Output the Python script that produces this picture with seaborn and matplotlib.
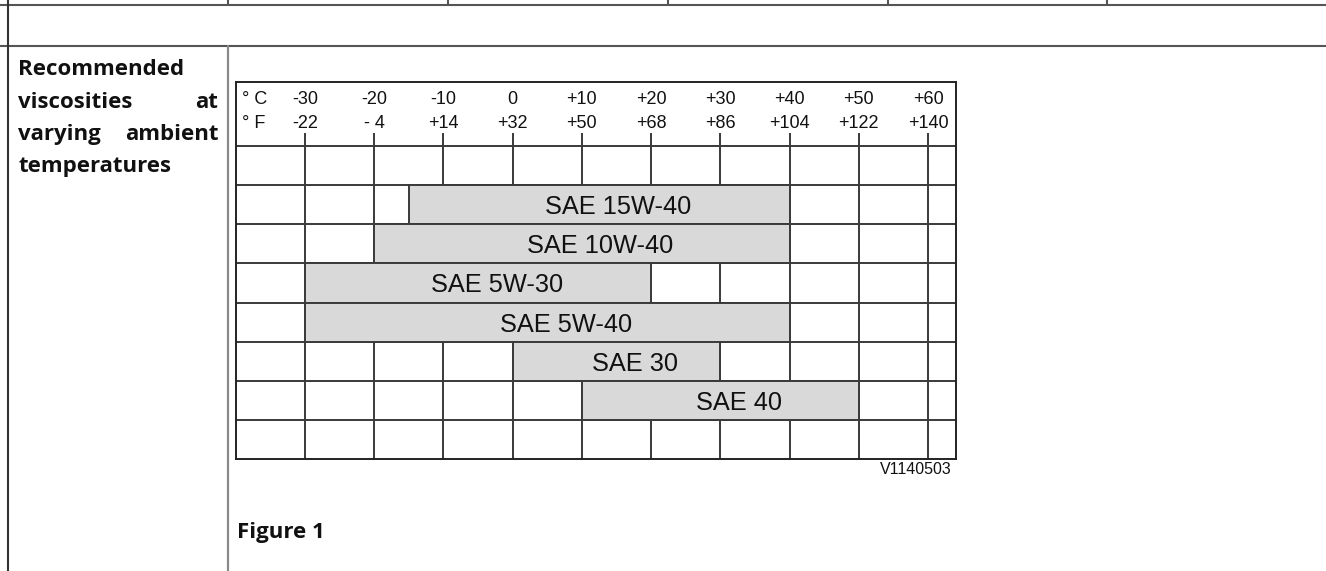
import matplotlib.pyplot as plt
import numpy as np
import pandas as pd
import seaborn as sns
from matplotlib.lines import Line2D

# temperature scale shown in the chart header
celsius_ticks = [-30, -20, -10, 0, 10, 20, 30, 40, 50, 60]
celsius_labels = ['-30', '-20', '-10', '0', '+10', '+20', '+30', '+40', '+50', '+60']
fahrenheit_labels = ['-22', '- 4', '+14', '+32', '+50', '+68', '+86', '+104', '+122', '+140']

# oil grades and their usable temperature range (deg C)
grades = ['SAE 15W-40', 'SAE 10W-40', 'SAE 5W-30', 'SAE 5W-40', 'SAE 30', 'SAE 40']
temp_low = [-15, -20, -30, -30, 0, 10]
temp_high = [40, 40, 20, 40, 30, 50]

row_order = ['blank_top'] + grades + ['blank_bottom']

W, H = 1326, 571
LINE = '#3a3a3a'

sns.set_style('white')
plt.rcParams['font.family'] = ['Liberation Sans', 'DejaVu Sans']

fig = plt.figure(figsize=(W / 100, H / 100), dpi=100)


def fig_line(x0, y0, x1, y1, color='#555555', lw=1.5):
    # line in pixel coordinates of the page (y down)
    fig.add_artist(Line2D([x0 / W, x1 / W], [1 - y0 / H, 1 - y1 / H],
                          transform=fig.transFigure, color=color, lw=lw))


# page table lines
fig_line(0, 5.3, W, 5.3)
for x in [227.7, 447.7, 667.7, 887.7, 1106.7]:
    fig_line(x, 0, x, 5.3)
fig_line(0, 45.7, W, 45.7)
fig_line(7.6, 0, 7.6, H, color='#333333')
fig_line(227.7, 45.7, 227.7, H, color='#8a8a8a', lw=1.6)

# left column caption (justified words)
bold = dict(family=['Open Sans', 'DejaVu Sans'], fontweight='bold', fontsize=16, color='#111111')
fig.text(18.3 / W, 1 - 75 / H, 'Recommended', ha='left', va='baseline', **bold)
fig.text(18.3 / W, 1 - 108.3 / H, 'viscosities', ha='left', va='baseline', **bold)
fig.text(218.3 / W, 1 - 108.3 / H, 'at', ha='right', va='baseline', **bold)
fig.text(18.3 / W, 1 - 140 / H, 'varying', ha='left', va='baseline', **bold)
fig.text(218.3 / W, 1 - 140 / H, 'ambient', ha='right', va='baseline', **bold)
fig.text(18.3 / W, 1 - 171.7 / H, 'temperatures', ha='left', va='baseline', **bold)
fig.text(236.7 / W, 1 - 537.7 / H, 'Figure 1', ha='left', va='baseline', **bold)

# chart
df = pd.DataFrame({'grade': grades, 'low': temp_low, 'high': temp_high})

ax = fig.add_axes([235.7 / W, 1 - 459.3 / H, 720 / W, 377 / H])
sns.barplot(data=df, x='high', y='grade', order=row_order, orient='h',
            color='#d9d9d9', saturation=1, width=1.0, errorbar=None,
            edgecolor=LINE, linewidth=1.4, ax=ax, zorder=2)

# turn the bars into ranges low..high
for p in ax.patches:
    row = row_order[int(round(p.get_y() + p.get_height() / 2))]
    i = grades.index(row)
    p.set_x(temp_low[i])
    p.set_width(temp_high[i] - temp_low[i])
    ax.text((temp_low[i] + temp_high[i]) / 2 + 2.7, i + 1.06, row,
            ha='center', va='center', fontsize=18.3, color='#111111', zorder=3)

header = 1.625
ax.set_xlim(-40, 64)
ax.set_ylim(len(row_order) - 0.5, -0.5 - header)

ax.vlines(celsius_ticks, -0.5 - 0.33, len(row_order) - 0.5, color=LINE, lw=1.4, zorder=1)
ax.hlines(np.arange(-0.5, len(row_order) - 0.5, 1), -40, 64, color=LINE, lw=1.4, zorder=1)

for c, cl, fl in zip(celsius_ticks, celsius_labels, fahrenheit_labels):
    ax.text(c, -1.69, cl, ha='center', va='center', fontsize=13, color='#111111')
    ax.text(c, -1.08, fl, ha='center', va='center', fontsize=13, color='#111111')
ax.text(-39.1, -1.69, '° C', ha='left', va='center', fontsize=13, color='#111111')
ax.text(-39.1, -1.08, '° F', ha='left', va='center', fontsize=13, color='#111111')

ax.set_xticks([])
ax.set_yticks([])
ax.set_xlabel('')
ax.set_ylabel('')
for s in ax.spines.values():
    s.set_visible(True)
    s.set_color('#222222')
    s.set_linewidth(1.4)

fig.text(951.7 / W, 1 - 469.5 / H, 'V1140503', ha='right', va='center', fontsize=11.5, color='#111111')

fig.savefig('out.png', dpi=100)
